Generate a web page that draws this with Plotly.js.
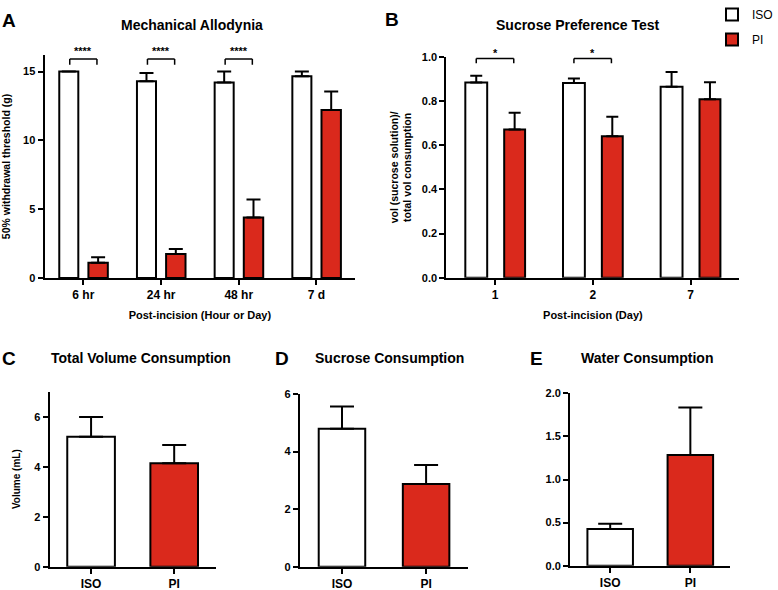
<!DOCTYPE html>
<html>
<head>
<meta charset="utf-8">
<script src="https://cdn.plot.ly/plotly-3.0.1.min.js"></script>
<style>html,body{margin:0;padding:0;background:#fff;}#chart{width:778px;height:590px;}</style>
</head>
<body>
<div id="chart"></div>
<script>
// ---- Data ----
const groups = ['ISO', 'PI'];

// A: Mechanical Allodynia
const aCategories = ['6 hr', '24 hr', '48 hr', '7 d'];
const aIso = [15.0, 14.3, 14.2, 14.65];
const aIsoErr = [0, 0.6, 0.8, 0.35];
const aPi = [1.1, 1.75, 4.4, 12.2];
const aPiErr = [0.4, 0.35, 1.3, 1.35];
const aSig = ['****', '****', '****', ''];

// B: Sucrose Preference Test
const bDays = ['1', '2', '7'];
const bIso = [0.884, 0.882, 0.865];
const bIsoErr = [0.031, 0.02, 0.067];
const bPi = [0.671, 0.641, 0.809];
const bPiErr = [0.076, 0.088, 0.077];
const bSig = ['*', '*', ''];

// C: Total Volume Consumption
const cVals = [5.2, 4.14];
const cErr = [0.79, 0.73];
// D: Sucrose Consumption
const dVals = [4.79, 2.87];
const dErr = [0.78, 0.66];
// E: Water Consumption
const eVals = [0.426, 1.284];
const eErr = [0.061, 0.553];

// ---- Styling ----
const RED = 'rgb(218,41,28)';
const FONT = 'Arial, "Liberation Sans", sans-serif';
const zeros = arr => arr.map(() => 0);
const err = (arr, w) => ({type: 'data', array: arr, arrayminus: zeros(arr), symmetric: false,
  visible: true, color: '#000', thickness: 2, width: w});

const traces = [
  {type: 'bar', name: 'ISO', x: aCategories, y: aIso, xaxis: 'x', yaxis: 'y',
   offset: -0.31, width: 0.245, marker: {color: '#fff', line: {color: '#000', width: 2}},
   error_y: err(aIsoErr, 7), legendgroup: 'iso', showlegend: true},
  {type: 'bar', name: 'PI', x: aCategories, y: aPi, xaxis: 'x', yaxis: 'y',
   offset: 0.065, width: 0.25, marker: {color: RED, line: {color: '#000', width: 2}},
   error_y: err(aPiErr, 7), legendgroup: 'pi', showlegend: true},
  {type: 'bar', name: 'ISO', x: bDays, y: bIso, xaxis: 'x2', yaxis: 'y2',
   offset: -0.306, width: 0.224, marker: {color: '#fff', line: {color: '#000', width: 2}},
   error_y: err(bIsoErr, 6), legendgroup: 'iso', showlegend: false},
  {type: 'bar', name: 'PI', x: bDays, y: bPi, xaxis: 'x2', yaxis: 'y2',
   offset: 0.092, width: 0.214, marker: {color: RED, line: {color: '#000', width: 2}},
   error_y: err(bPiErr, 6), legendgroup: 'pi', showlegend: false},
  {type: 'bar', x: groups, y: cVals, xaxis: 'x3', yaxis: 'y3', width: 0.573,
   marker: {color: ['#fff', RED], line: {color: '#000', width: 2}},
   error_y: err(cErr, 12), showlegend: false},
  {type: 'bar', x: groups, y: dVals, xaxis: 'x4', yaxis: 'y4', width: 0.553,
   marker: {color: ['#fff', RED], line: {color: '#000', width: 2}},
   error_y: err(dErr, 12), showlegend: false},
  {type: 'bar', x: groups, y: eVals, xaxis: 'x5', yaxis: 'y5', width: 0.568,
   marker: {color: ['#fff', RED], line: {color: '#000', width: 2}},
   error_y: err(eErr, 12), showlegend: false}
];

function xax(domain, anchor, title, extra) {
  return Object.assign({
    domain: domain, anchor: anchor, type: 'category', showline: true, linewidth: 2, linecolor: '#000',
    ticks: 'outside', ticklen: 5, tickwidth: 2, tickcolor: '#000', showgrid: false, zeroline: false,
    tickfont: {family: FONT, size: 12, color: '#000', weight: 'bold'},
    title: {text: title, font: {family: FONT, size: 11, color: '#000', weight: 'bold'}, standoff: 10},
    fixedrange: true
  }, extra || {});
}
function yax(domain, anchor, range, dtick, fmt, title, tsize, standoff) {
  return {
    domain: domain, anchor: anchor, range: range, dtick: dtick, tick0: 0, tickformat: fmt,
    showline: true, linewidth: 2, linecolor: '#000', ticks: 'outside', ticklen: 5, tickwidth: 2,
    tickcolor: '#000', showgrid: false, zeroline: false,
    tickfont: {family: FONT, size: 11, color: '#000', weight: 'bold'},
    title: {text: title, font: {family: FONT, size: tsize, color: '#000', weight: 'bold'}, standoff: standoff},
    fixedrange: true
  };
}

// significance brackets and stars
const shapes = [];
const annotations = [];
function addSig(sig, xref, yref, dl, dr, yTop, yEnd, yStarPx) {
  sig.forEach((s, i) => {
    if (!s) return;
    const l = i + dl, r = i + dr;
    const line = {color: '#000', width: 1.5};
    shapes.push({type: 'line', xref: xref, yref: yref, x0: l, x1: r, y0: yTop, y1: yTop, line: line});
    shapes.push({type: 'line', xref: xref, yref: yref, x0: l, x1: l, y0: yTop, y1: yEnd, line: line});
    shapes.push({type: 'line', xref: xref, yref: yref, x0: r, x1: r, y0: yTop, y1: yEnd, line: line});
    annotations.push({xref: xref, yref: 'paper', x: i + (dl + dr) / 2, y: 1 - yStarPx / 590, text: s,
      showarrow: false, font: {family: FONT, size: 11, color: '#000', weight: 'bold'},
      xanchor: 'center', yanchor: 'middle'});
  });
}
addSig(aSig, 'x', 'y', -0.175, 0.175, 15.9, 15.5, 51);
addSig(bSig, 'x2', 'y2', -0.194, 0.19, 0.993, 0.972, 53);

function panelTitle(text, xpx, ypx) {
  annotations.push({xref: 'paper', yref: 'paper', x: xpx / 778, y: 1 - ypx / 590, text: text,
    showarrow: false, xanchor: 'center', yanchor: 'middle',
    font: {family: FONT, size: 14, color: '#000', weight: 'bold'}});
}
function panelLetter(text, xpx, ypx) {
  annotations.push({xref: 'paper', yref: 'paper', x: xpx / 778, y: 1 - ypx / 590, text: text,
    showarrow: false, xanchor: 'center', yanchor: 'middle',
    font: {family: FONT, size: 19, color: '#000', weight: 'bold'}});
}
panelTitle('Mechanical Allodynia', 194, 25);
panelTitle('Sucrose Preference Test', 583, 25);
panelTitle('Total Volume Consumption', 142, 358);
panelTitle('Sucrose Consumption', 394, 358);
panelTitle('Water Consumption', 654, 358);
panelLetter('A', 9, 20);
panelLetter('B', 396, 19);
panelLetter('C', 9, 358);
panelLetter('D', 285, 358);
panelLetter('E', 542, 358);

const layout = {
  width: 778, height: 590,
  margin: {l: 0, r: 0, t: 0, b: 0},
  paper_bgcolor: '#fff', plot_bgcolor: '#fff',
  barmode: 'overlay',
  font: {family: FONT, color: '#000'},
  showlegend: true,
  legend: {x: 0.925, y: 1.0, xanchor: 'left', yanchor: 'top', traceorder: 'grouped', tracegroupgap: 6,
    font: {family: FONT, size: 12, color: '#000'}, bgcolor: 'rgba(0,0,0,0)'},
  xaxis: xax([0.0578, 0.4614], 'y', 'Post-incision (Hour or Day)', {range: [-0.5, 3.5]}),
  yaxis: yax([0.5288, 0.9068], 'x', [0, 16.2], 5, '', '50% withdrawal threshold (g)', 10.5, 10),
  xaxis2: xax([0.5797, 0.9602], 'y2', 'Post-incision (Day)', {range: [-0.5, 2.5]}),
  yaxis2: yax([0.5293, 0.9034], 'x2', [0, 1], 0.2, '.1f', 'vol (sucrose solution)/<br>total vol consumption', 10.5, 8),
  xaxis3: xax([0.0643, 0.2802], 'y3', '', {range: [-0.5, 1.5]}),
  yaxis3: yax([0.0395, 0.3361], 'x3', [0, 7], 2, '', 'Volume (mL)', 10, 12),
  xaxis4: xax([0.3895, 0.6080], 'y4', '', {range: [-0.5, 1.5]}),
  yaxis4: yax([0.0395, 0.3322], 'x4', [0, 6], 2, '', '', 10, 10),
  xaxis5: xax([0.7404, 0.9486], 'y5', '', {range: [-0.5, 1.5]}),
  yaxis5: yax([0.0412, 0.3333], 'x5', [0, 2], 0.5, '.1f', '', 10, 10),
  shapes: shapes,
  annotations: annotations
};

Plotly.newPlot('chart', traces, layout, {displayModeBar: false, staticPlot: true});
</script>
</body>
</html>
